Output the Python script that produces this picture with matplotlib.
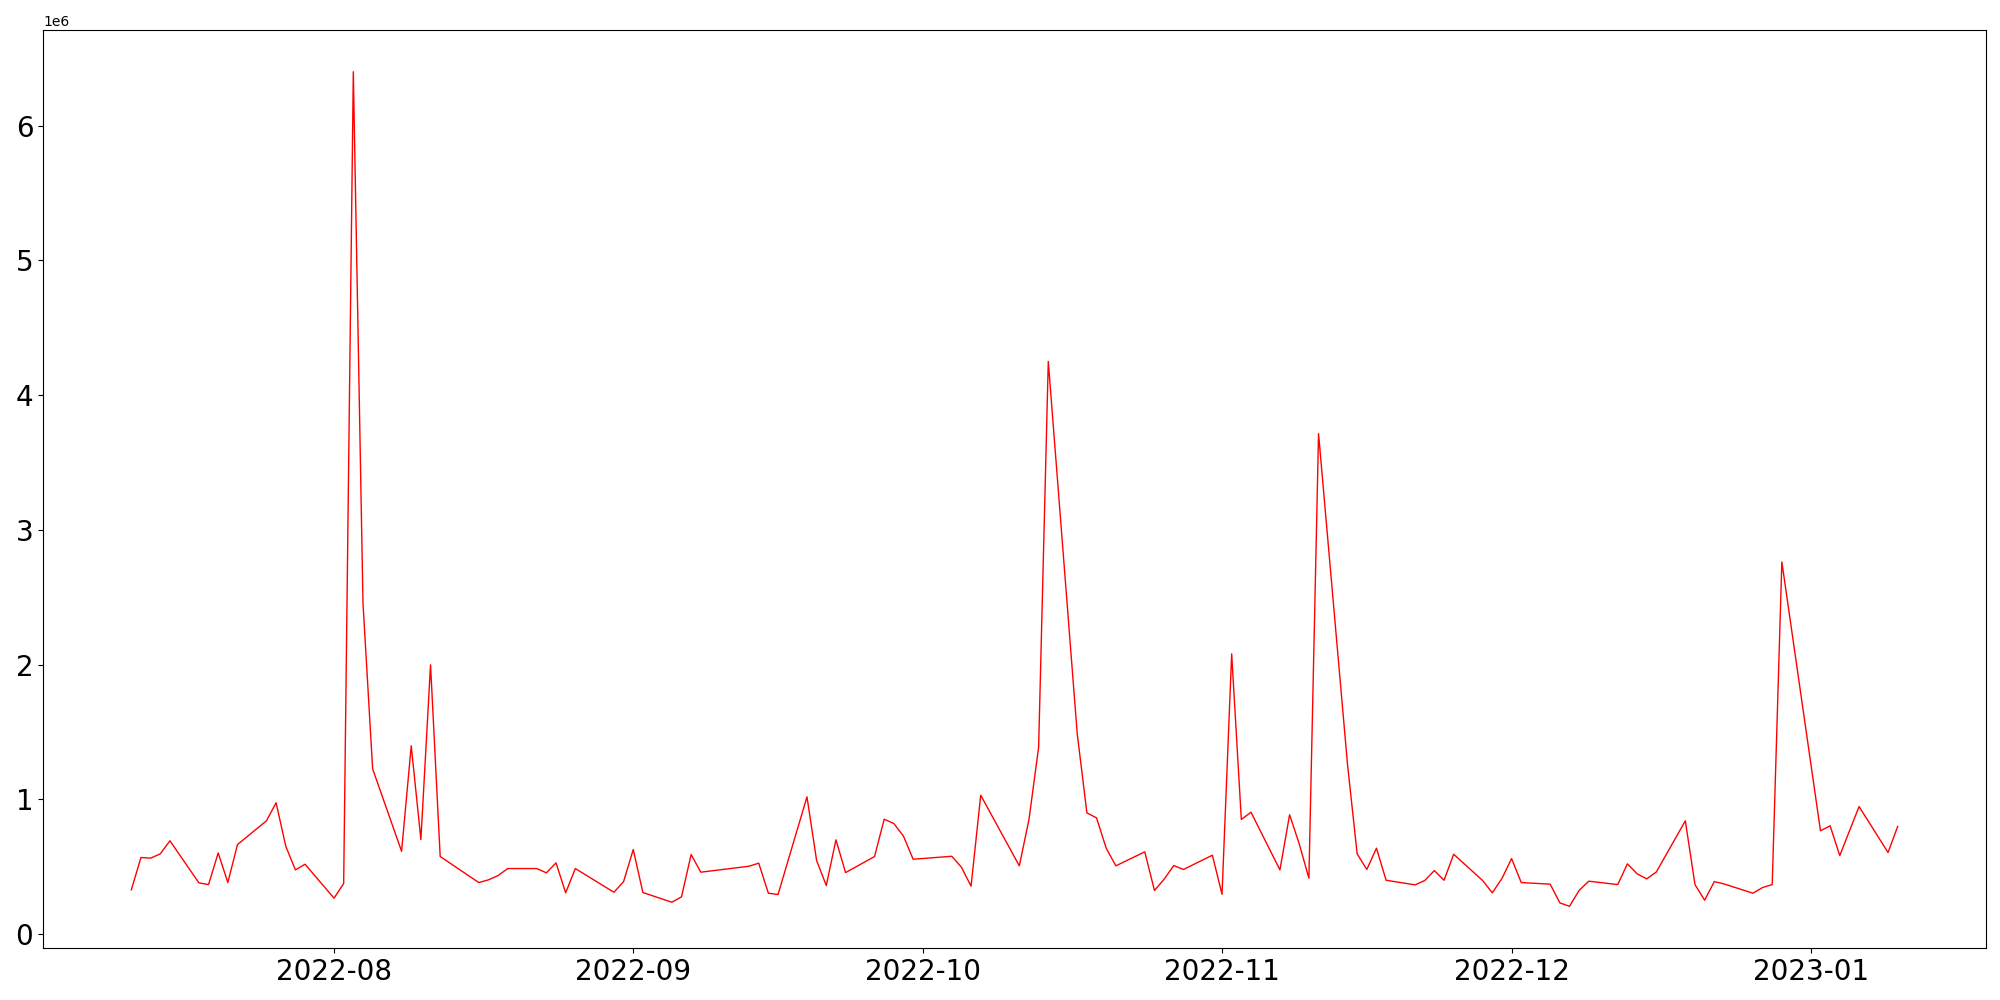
import pandas as pd
import matplotlib
matplotlib.use("Agg")
import matplotlib.pyplot as plt

# 交易日 (跳过周末和假日)
dates = [
    "2022-07-11", "2022-07-12", "2022-07-13", "2022-07-14", "2022-07-15",
    "2022-07-18", "2022-07-19", "2022-07-20", "2022-07-21", "2022-07-22",
    "2022-07-25", "2022-07-26", "2022-07-27", "2022-07-28", "2022-07-29",
    "2022-08-01", "2022-08-02", "2022-08-03", "2022-08-04", "2022-08-05",
    "2022-08-08", "2022-08-09", "2022-08-10", "2022-08-11", "2022-08-12",
    "2022-08-16", "2022-08-17", "2022-08-18", "2022-08-19",
    "2022-08-22", "2022-08-23", "2022-08-24", "2022-08-25", "2022-08-26",
    "2022-08-30", "2022-08-31", "2022-09-01", "2022-09-02",
    "2022-09-05", "2022-09-06", "2022-09-07", "2022-09-08",
    "2022-09-13", "2022-09-14", "2022-09-15", "2022-09-16",
    "2022-09-19", "2022-09-20", "2022-09-21", "2022-09-22", "2022-09-23",
    "2022-09-26", "2022-09-27", "2022-09-28", "2022-09-29", "2022-09-30",
    "2022-10-04", "2022-10-05", "2022-10-06", "2022-10-07",
    "2022-10-11", "2022-10-12", "2022-10-13", "2022-10-14",
    "2022-10-17", "2022-10-18", "2022-10-19", "2022-10-20", "2022-10-21",
    "2022-10-24", "2022-10-25", "2022-10-26", "2022-10-27", "2022-10-28",
    "2022-10-31", "2022-11-01", "2022-11-02", "2022-11-03", "2022-11-04",
    "2022-11-07", "2022-11-08", "2022-11-09", "2022-11-10", "2022-11-11",
    "2022-11-14", "2022-11-15", "2022-11-16", "2022-11-17", "2022-11-18",
    "2022-11-21", "2022-11-22", "2022-11-23", "2022-11-24", "2022-11-25",
    "2022-11-28", "2022-11-29", "2022-11-30", "2022-12-01", "2022-12-02",
    "2022-12-05", "2022-12-06", "2022-12-07", "2022-12-08", "2022-12-09",
    "2022-12-12", "2022-12-13", "2022-12-14", "2022-12-15", "2022-12-16",
    "2022-12-19", "2022-12-20", "2022-12-21", "2022-12-22", "2022-12-23",
    "2022-12-26", "2022-12-27", "2022-12-28", "2022-12-29",
    "2023-01-02", "2023-01-03", "2023-01-04", "2023-01-06",
    "2023-01-09", "2023-01-10",
]

# 数值 (单位: 百万)
values_m = [
    0.329, 0.569, 0.564, 0.596, 0.693,
    0.381, 0.368, 0.603, 0.383, 0.665,
    0.841, 0.975, 0.653, 0.477, 0.519,
    0.267, 0.376, 6.40, 2.46, 1.227,
    0.615, 1.398, 0.702, 1.999, 0.576,
    0.383, 0.403, 0.435, 0.487,
    0.487, 0.455, 0.529, 0.307, 0.487,
    0.311, 0.390, 0.628, 0.309,
    0.237, 0.277, 0.591, 0.460,
    0.504, 0.527, 0.304, 0.294,
    1.019, 0.546, 0.361, 0.700, 0.457,
    0.576, 0.853, 0.821, 0.727, 0.556,
    0.578, 0.497, 0.356, 1.031,
    0.507, 0.851, 1.388, 4.25,
    1.487, 0.900, 0.863, 0.638, 0.507,
    0.611, 0.324, 0.408, 0.509, 0.480,
    0.586, 0.296, 2.08, 0.851, 0.905,
    0.477, 0.886, 0.670, 0.415, 3.714,
    1.26, 0.596, 0.480, 0.638, 0.400,
    0.366, 0.398, 0.472, 0.400, 0.593,
    0.398, 0.307, 0.413, 0.561, 0.383,
    0.371, 0.232, 0.207, 0.325, 0.393,
    0.368, 0.522, 0.448, 0.410, 0.462,
    0.841, 0.368, 0.252, 0.390, 0.373,
    0.304, 0.346, 0.368, 2.762,
    0.767, 0.804, 0.583, 0.947,
    0.606, 0.799,
]

x = pd.to_datetime(dates)
y = [v * 1e6 for v in values_m]

fig, ax = plt.subplots(figsize=(20, 10), dpi=100)
ax.plot(x, y, color="red", linewidth=1)
ax.tick_params(axis="both", labelsize=20)

fig.subplots_adjust(left=0.0215, right=0.993, top=0.97, bottom=0.052)
fig.savefig("out.png", dpi=100)
